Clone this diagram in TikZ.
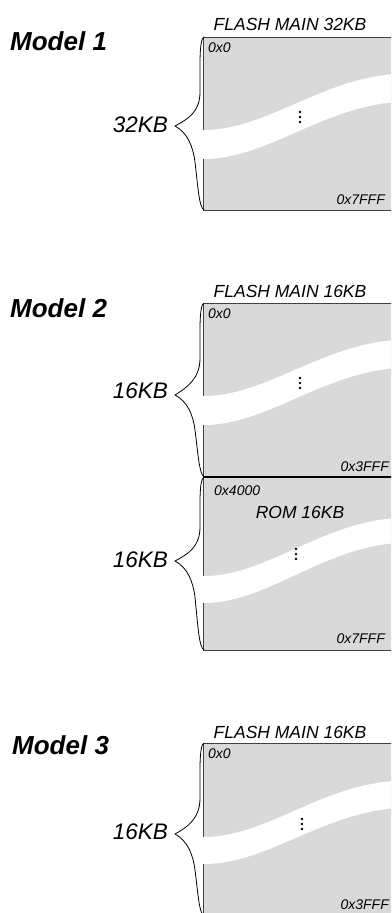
\documentclass[tikz,border=0pt]{standalone}
\usepackage{fontspec}
\setmainfont{Liberation Sans}
\usetikzlibrary{positioning}
\definecolor{memgray}{HTML}{D9D9D9}

\tikzset{
  model/.style={font=\fontsize{26}{26}\selectfont\bfseries\itshape, anchor=west, inner sep=0pt},
  title/.style={font=\fontsize{17.5}{17.5}\selectfont\itshape, inner sep=0pt},
  addr/.style={font=\fontsize{14}{14}\selectfont\itshape, inner sep=0pt},
  sizelbl/.style={font=\fontsize{22.5}{22.5}\selectfont\itshape, inner sep=0pt, anchor=east},
  region/.style={fill=memgray},
  edge/.style={draw=black!75, line width=1pt},
  band/.style={fill=white},
  curly/.style={draw=black, line width=0.8pt},
}

\begin{document}
\begin{tikzpicture}[x=1pt, y=-1pt]
\useasboundingbox (0,0) rectangle (391,913);
\clip (0,0) rectangle (391,913);

% --- Model 1 ---
\begin{scope}[shift={(0,37)}]
\fill[region] (203,0) rectangle (400,173);
\draw[edge] (400,0) -- (203,0) -- (203,173) -- (400,173);
% banda bianca (interruzione)
\fill[band] (202,93) .. controls (265,94) and (320,42) .. (396,37) -- (396,65)
      .. controls (320,71) and (265,123) .. (202,122) -- cycle;
\foreach \d in {-5,0,5} \fill (300,80+\d) circle (1.3pt);
% graffa
\draw[curly] (204,0) .. controls (199,2) and (200,30) .. (200,55) .. controls (200,75) and (188,82) .. (175,89)
      .. controls (188,96) and (193,110) .. (195,125) .. controls (198,150) and (199,170) .. (204,173);
\node[model] (m1) at (10,4) {Model 1};
\node[title] (f1) at (290,-13) {FLASH MAIN 32KB};
\node[addr, anchor=west] (a1s) at (208,11) {0x0};
\node[addr, anchor=east] (a1e) at (385,163) {0x7FFF};
\node[sizelbl] (s1) at (168,88) {32KB};
\end{scope}

% --- Model 2 (flash) ---
\begin{scope}[shift={(0,303)}]
\fill[region] (203,0) rectangle (400,174);
\draw[edge] (400,0) -- (203,0) -- (203,174);
\fill[band] (202,93) .. controls (265,94) and (320,42) .. (396,37) -- (396,65)
      .. controls (320,71) and (265,123) .. (202,122) -- cycle;
\foreach \d in {-5,0,5} \fill (300,80+\d) circle (1.3pt);
\draw[curly] (204,0) .. controls (199,2) and (200,30) .. (200,55) .. controls (200,75) and (188,84) .. (175,92)
      .. controls (188,99) and (193,112) .. (195,127) .. controls (198,150) and (199,170) .. (204,174);
\node[model] (m2) at (10,5) {Model 2};
\node[title] (f2) at (290,-12) {FLASH MAIN 16KB};
\node[addr, anchor=west] (a2s) at (208,11) {0x0};
\node[addr, anchor=east] (a2e) at (389,164) {0x3FFF};
\node[sizelbl] (s2) at (168,88) {16KB};
\end{scope}

% --- Model 2 (rom) ---
\begin{scope}[shift={(0,477)}]
\fill[region] (203,0) rectangle (400,173);
\draw[edge] (203,0) -- (203,173) -- (400,173);
\fill[band] (202,99) .. controls (265,100) and (320,46) .. (396,41) -- (396,66)
      .. controls (320,72) and (265,127) .. (202,126) -- cycle;
\foreach \d in {-5,0,5} \fill (296,77+\d) circle (1.3pt);
\draw[curly] (204,0) .. controls (199,2) and (200,30) .. (200,50) .. controls (200,70) and (188,77) .. (175,84)
      .. controls (188,91) and (193,105) .. (195,120) .. controls (198,150) and (199,170) .. (204,173);
\draw[black, line width=1.2pt] (203,0) -- (400,0);
\node[addr, anchor=west] (a3s) at (214,14) {0x4000};
\node[title] (r2) at (300,35) {ROM 16KB};
\node[addr, anchor=east] (a3e) at (385,162) {0x7FFF};
\node[sizelbl] (s3) at (168,83) {16KB};
\end{scope}

% --- Model 3 ---
\begin{scope}[shift={(0,743)}]
\fill[region] (203,0) rectangle (400,173);
\draw[edge] (400,0) -- (203,0) -- (203,173) -- (400,173);
\fill[band] (202,94) .. controls (265,95) and (320,42) .. (396,38) -- (396,65)
      .. controls (320,71) and (265,122) .. (202,121) -- cycle;
\foreach \d in {-5,0,5} \fill (302,81+\d) circle (1.3pt);
\draw[curly] (204,0) .. controls (199,2) and (200,30) .. (200,55) .. controls (200,75) and (188,84) .. (175,91)
      .. controls (188,98) and (193,112) .. (195,127) .. controls (198,150) and (199,170) .. (204,173);
\node[model] (m3) at (12,2) {Model 3};
\node[title] (f3) at (290,-11) {FLASH MAIN 16KB};
\node[addr, anchor=west] (a4s) at (208,11) {0x0};
\node[addr, anchor=east] (a4e) at (389,162) {0x3FFF};
\node[sizelbl] (s4) at (168,89) {16KB};
\end{scope}

\end{tikzpicture}
\end{document}
